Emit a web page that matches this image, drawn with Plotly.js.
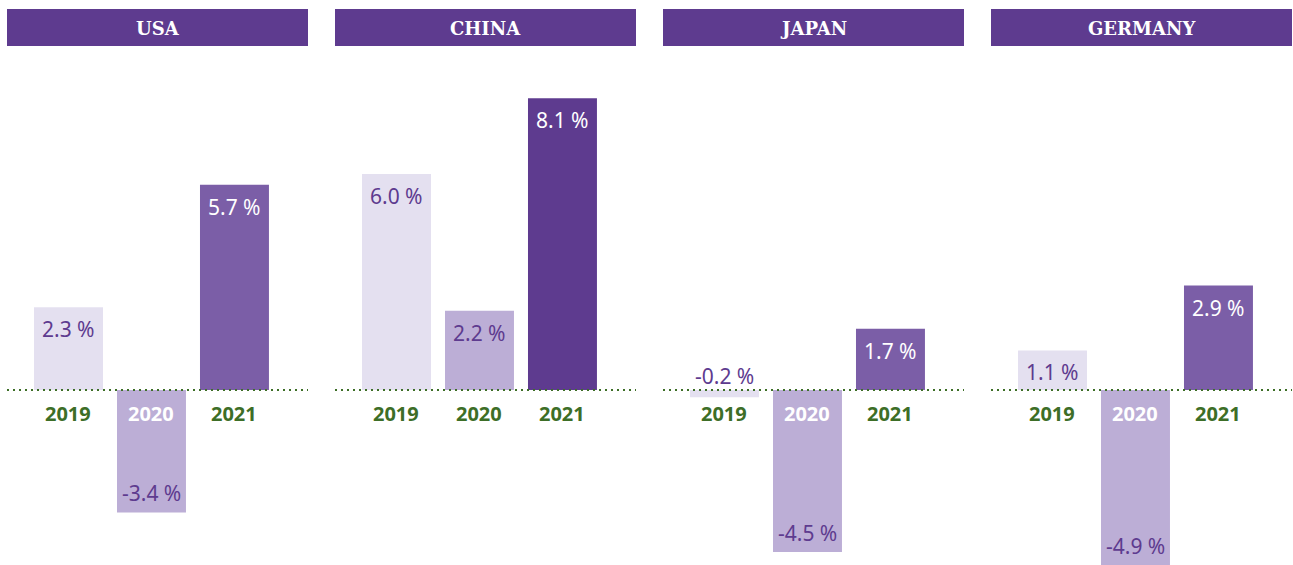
<!DOCTYPE html>
<html><head><meta charset="utf-8">
<script src="https://cdn.plot.ly/plotly-3.0.1.min.js"></script>
<style>html,body{margin:0;padding:0;background:#fff;}#chart{width:1293px;height:565px;}</style>
</head><body><div id="chart"></div>
<script>
const countries = ['USA', 'CHINA', 'JAPAN', 'GERMANY'];
const years = ['2019', '2020', '2021'];
const usa = [2.3, -3.4, 5.7];
const china = [6.0, 2.2, 8.1];
const japan = [-0.2, -4.5, 1.7];
const germany = [1.1, -4.9, 2.9];
const seriesValues = [usa, china, japan, germany];

const C19 = '#e4e0f0', C20 = '#bcaed6', C21 = '#7b5ea7', C21dark = '#5e3b8f';
const HEADER = '#5e3b8f', TEXTP = '#5e3b8f', GREEN = '#3d6e27';

const W = 1293, H = 565;
const traces = [], shapes = [], annotations = [];
const layout = {
  width: W, height: H, margin: {l: 0, r: 0, t: 0, b: 0},
  paper_bgcolor: '#fff', plot_bgcolor: '#fff', showlegend: false,
  bargap: 0.169, shapes: shapes, annotations: annotations
};
const yRange = [-4.86, 10.83];

countries.forEach((name, i) => {
  const sx = i === 0 ? '' : String(i + 1);
  const xa = 'x' + sx, ya = 'y' + sx;
  const vals = seriesValues[i];
  const c21 = name === 'CHINA' ? C21dark : C21;
  const left = (7 + 328 * i) / W, right = (308 + 328 * i) / W;
  layout['xaxis' + sx] = {domain: [left, right], range: [-0.741, 2.886], type: 'category',
    showticklabels: false, showgrid: false, zeroline: false, showline: false, ticks: '', anchor: ya, fixedrange: true};
  layout['yaxis' + sx] = {domain: [0, 1], range: yRange, showticklabels: false, showgrid: false,
    zeroline: false, showline: false, ticks: '', anchor: xa, fixedrange: true};
  traces.push({type: 'bar', x: years, y: vals, xaxis: xa, yaxis: ya,
    marker: {color: [C19, C20, c21], line: {width: 0}}, hoverinfo: 'skip'});
  // header
  shapes.push({type: 'rect', xref: xa + ' domain', yref: 'paper', x0: 0, x1: 1,
    y0: 1 - 46 / H, y1: 1 - 9 / H, fillcolor: HEADER, line: {width: 0}, layer: 'below'});
  annotations.push({xref: xa + ' domain', yref: 'paper', x: 0.5, y: 1 - 28.5 / H, text: '<b>' + name + '</b>',
    showarrow: false, font: {family: 'DejaVu Serif, serif', size: 18, color: '#ffffff'}, xanchor: 'center', yanchor: 'middle'});
  // zero line dotted
  shapes.push({type: 'line', xref: xa + ' domain', yref: ya, x0: 0, x1: 1, y0: 0, y1: 0,
    line: {color: GREEN, width: 2, dash: '2px,4px'}, layer: 'above'});
  years.forEach((yr, j) => {
    const v = vals[j];
    const txt = (v < 0 ? '-' : '') + Math.abs(v).toFixed(1) + ' %';
    const tcolor = j === 2 ? '#ffffff' : TEXTP;
    let ann = {xref: xa, yref: ya, x: j, showarrow: false, text: txt,
      font: {family: 'Noto Sans, sans-serif', size: 21, color: tcolor}, xanchor: 'center', yanchor: 'middle'};
    if (Math.abs(v) < 0.5) { ann.y = 0; ann.yshift = 14; ann.font.color = TEXTP; }
    else if (v > 0) { ann.y = v; ann.yshift = -22; }
    else { ann.y = Math.max(v, yRange[0] + 0.005); ann.yshift = 19; }
    annotations.push(ann);
    const yearColor = (v < -0.5) ? '#ffffff' : GREEN;
    annotations.push({xref: xa, yref: ya, x: j, y: 0, yshift: -24, showarrow: false, text: '<b>' + yr + '</b>',
      font: {family: 'Open Sans, sans-serif', size: 20, color: yearColor}, xanchor: 'center', yanchor: 'middle'});
  });
});

Plotly.newPlot('chart', traces, layout, {displayModeBar: false, staticPlot: true});
</script></body></html>
